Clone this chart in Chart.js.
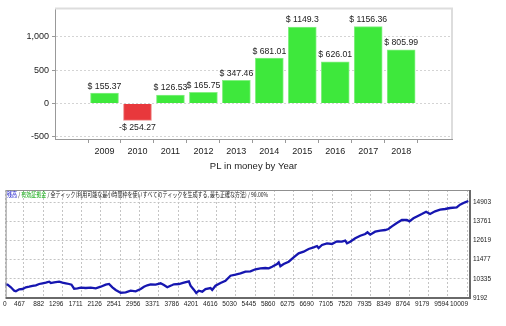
<!DOCTYPE html>
<html>
<head>
<meta charset="utf-8">
<script src="https://cdn.jsdelivr.net/npm/chart.js@4.4.1/dist/chart.umd.min.js"></script>
<style>
  body { margin: 0; background: #fff; width: 506px; height: 326px; overflow: hidden; }
  canvas { display: block; }
</style>
</head>
<body>
<canvas id="chartYear" width="506" height="175"></canvas>
<canvas id="chartBalance" width="506" height="151"></canvas>
<script>
// PL per year (top chart)
const years = [2009, 2010, 2011, 2012, 2013, 2014, 2015, 2016, 2017, 2018];
const plMoney = [155.37, -254.27, 126.53, 165.75, 347.46, 681.01, 1149.3, 626.01, 1156.36, 805.99];
const plTicks = [-500, 0, 500, 1000];

// balance curve (bottom chart)
const tradeNo = [0, 116, 188, 259, 295, 367, 439, 510, 582, 654, 725, 797, 868, 940, 1012, 1047, 1119, 1227,
  1298, 1370, 1441, 1492, 1549, 1621, 1692, 1800, 1907, 2015, 2122, 2229, 2301, 2373, 2444, 2552, 2659, 2767,
  2874, 2982, 3053, 3125, 3196, 3304, 3411, 3483, 3555, 3626, 3663, 3697, 3805, 3912, 4020, 4056, 4127, 4179,
  4234, 4308, 4378, 4486, 4522, 4593, 4701, 4808, 4916, 5023, 5131, 5238, 5346, 5453, 5561, 5668, 5740, 5812,
  5919, 5954, 5990, 6061, 6169, 6276, 6383, 6491, 6598, 6706, 6779, 6813, 6886, 6994, 7101, 7209, 7316, 7387,
  7424, 7494, 7602, 7710, 7817, 7866, 7924, 8031, 8139, 8246, 8317, 8391, 8498, 8606, 8713, 8769, 8855, 8962,
  9035, 9128, 9214, 9321, 9429, 9536, 9643, 9787, 9858, 9966, 10037];
const balance = [10000, 9983, 9829, 9626, 9591, 9710, 9727, 9829, 9864, 9906, 9948, 10025, 10066, 10102, 10162,
  10084, 10126, 10162, 10102, 10066, 10025, 9983, 9745, 9769, 9805, 9787, 9805, 9769, 9864, 9983, 10025, 9829,
  9668, 9507, 9531, 9626, 9591, 9727, 9864, 9948, 10007, 9983, 10066, 9965, 9829, 9924, 9965, 10007, 10025,
  10102, 10185, 9924, 9686, 9489, 9626, 9567, 9727, 9787, 9668, 9924, 10084, 10221, 10519, 10578, 10661, 10757,
  10780, 10899, 10959, 10977, 10959, 11054, 11215, 11316, 11078, 11215, 11351, 11613, 11851, 11946, 12107,
  12208, 12285, 12167, 12345, 12446, 12404, 12565, 12541, 12601, 12446, 12541, 12744, 12898, 12999, 13100,
  12958, 13136, 13196, 13237, 13297, 13457, 13654, 13832, 13832, 13755, 13933, 14088, 14189, 14326, 14189,
  14350, 14445, 14487, 14546, 14588, 14742, 14885, 14960];
const tradeTicks = ['0', '467', '882', '1296', '1711', '2126', '2541', '2956', '3371', '3786', '4201', '4616',
  '5030', '5445', '5860', '6275', '6690', '7105', '7520', '7935', '8349', '8764', '9179', '9594', '10009'];
const balanceTicks = [9192, 10335, 11477, 12619, 13761, 14903];

Chart.defaults.font.family = '"Liberation Sans", Arial, sans-serif';
Chart.defaults.color = '#222';

// ---------- top: PL in money by Year ----------
const barLabels = {
  id: 'barLabels',
  afterDatasetsDraw(chart) {
    const ctx = chart.ctx;
    ctx.save();
    ctx.font = '8.7px "Liberation Sans", Arial, sans-serif';
    ctx.fillStyle = '#222';
    ctx.textAlign = 'center';
    ctx.textBaseline = 'middle';
    chart.getDatasetMeta(0).data.forEach((bar, i) => {
      const v = plMoney[i];
      const txt = v < 0 ? '-$ ' + Math.abs(v) : '$ ' + v;
      ctx.fillText(txt, bar.x, v < 0 ? bar.y + 7.5 : bar.y - 7);
    });
    ctx.restore();
  }
};

const topFrame = {
  id: 'topFrame',
  afterDraw(chart) {
    const a = chart.chartArea;
    const ctx = chart.ctx;
    ctx.save();
    ctx.strokeStyle = '#dddddd';
    ctx.lineWidth = 2;
    ctx.beginPath();
    ctx.moveTo(a.left, a.top);
    ctx.lineTo(a.right, a.top);
    ctx.lineTo(a.right, a.bottom);
    ctx.stroke();
    ctx.restore();
  }
};

new Chart(document.getElementById('chartYear'), {
  type: 'bar',
  data: {
    datasets: [{
      data: years.map((y, i) => ({ x: y, y: plMoney[i] })),
      backgroundColor: plMoney.map(v => v < 0 ? '#e8383c' : '#3ee83c'),
      borderColor: plMoney.map(v => v < 0 ? '#f08c8c' : '#86f084'),
      borderWidth: 1,
      barThickness: 28
    }]
  },
  options: {
    responsive: false,
    animation: false,
    layout: { padding: { top: 6, right: 54, left: 0, bottom: 0 } },
    scales: {
      x: {
        type: 'linear',
        min: 2008.1,
        max: 2018.94,
        afterFit: s => { s.height = 18; },
        afterBuildTicks: s => { s.ticks = years.map(y => ({ value: y })); },
        ticks: { callback: v => String(v), font: { size: 9 }, color: '#222', padding: 3, maxRotation: 0, autoSkip: false },
        grid: { drawOnChartArea: false, tickLength: 4, tickColor: '#999' },
        border: { color: '#999', width: 1 }
      },
      y: {
        min: -535,
        max: 1430,
        afterFit: s => { s.width = 55; },
        afterBuildTicks: s => { s.ticks = plTicks.map(v => ({ value: v })); },
        ticks: { callback: v => v.toLocaleString('en-US'), font: { size: 9 }, color: '#222', padding: 3 },
        grid: { color: '#d4d4d4', tickLength: 3, tickColor: '#999' },
        border: { color: '#999', width: 1, dash: [2, 2] }
      }
    },
    plugins: {
      legend: { display: false },
      tooltip: { enabled: false },
      title: {
        display: true,
        text: 'PL in money by Year',
        position: 'bottom',
        fullSize: false,
        color: '#222',
        font: { size: 9.5, weight: 'normal' },
        padding: { top: 3.3, bottom: 3.3 }
      }
    }
  },
  plugins: [barLabels, topFrame]
});

// ---------- bottom: balance curve ----------
const headerParts = [
  ['残高', '#1010c8'],
  [' / ', '#222'],
  ['有効証拠金', '#10a810'],
  [' / 全ティック(利用可能な最小時間枠を使いすべてのティックを生成する, 最も正確な方法) / 90.00%', '#222']
];

const mtFrame = {
  id: 'mtFrame',
  afterDraw(chart) {
    const a = chart.chartArea;
    const ctx = chart.ctx;
    ctx.save();
    ctx.strokeStyle = '#909090';
    ctx.lineWidth = 1;
    ctx.beginPath();
    ctx.moveTo(a.left + 0.5, a.bottom);
    ctx.lineTo(a.left + 0.5, a.top + 0.5);
    ctx.lineTo(a.right, a.top + 0.5);
    ctx.stroke();
    ctx.strokeStyle = '#6a6a6a';
    ctx.lineWidth = 2;
    ctx.beginPath();
    ctx.moveTo(a.right, a.top);
    ctx.lineTo(a.right, a.bottom);
    ctx.lineTo(a.left, a.bottom);
    ctx.stroke();

    // header line
    ctx.font = '6.5px "Noto Sans CJK JP", sans-serif';
    ctx.textBaseline = 'middle';
    const total = headerParts.reduce((w, p) => w + ctx.measureText(p[0]).width, 0);
    const k = 261 / total;
    ctx.translate(a.left + 1.5, a.top + 4.5);
    ctx.scale(k, 1);
    let x = 0;
    headerParts.forEach(p => {
      ctx.fillStyle = p[1];
      ctx.fillText(p[0], x, 0);
      x += ctx.measureText(p[0]).width;
    });
    ctx.restore();
  }
};

const tinyFont = { family: '"Liberation Sans Narrow", "Liberation Sans", Arial, sans-serif', size: 6.5 };

new Chart(document.getElementById('chartBalance'), {
  type: 'line',
  data: {
    datasets: [{
      data: tradeNo.map((t, i) => ({ x: t, y: balance[i] })),
      borderColor: '#1616b0',
      borderWidth: 2.3,
      pointRadius: 0,
      tension: 0
    }]
  },
  options: {
    responsive: false,
    animation: false,
    layout: { padding: { top: 15, left: 4.5, right: 0, bottom: 0 } },
    scales: {
      x: {
        type: 'linear',
        min: 74,
        max: 10073,
        afterFit: s => { s.height = 28; },
        afterBuildTicks: s => { s.ticks = tradeTicks.map(t => ({ value: Math.max(Number(t), s.min) })); },
        ticks: {
          callback: (v, i) => tradeTicks[i],
          align: 'end',
          labelOffset: 1,
          font: tinyFont,
          color: '#222',
          padding: 2,
          maxRotation: 0,
          autoSkip: false
        },
        grid: { color: '#c4c4c4', drawTicks: false },
        border: { display: false, dash: [2, 2] }
      },
      y: {
        position: 'right',
        min: 9192,
        max: 15617,
        afterFit: s => { s.width = 36; },
        afterBuildTicks: s => { s.ticks = balanceTicks.map(v => ({ value: v })); },
        ticks: { callback: v => String(v), font: tinyFont, color: '#222', padding: 3 },
        grid: { color: '#c4c4c4', drawTicks: false },
        border: { display: false, dash: [2, 2] }
      }
    },
    plugins: {
      legend: { display: false },
      tooltip: { enabled: false }
    }
  },
  plugins: [mtFrame]
});
</script>
</body>
</html>
